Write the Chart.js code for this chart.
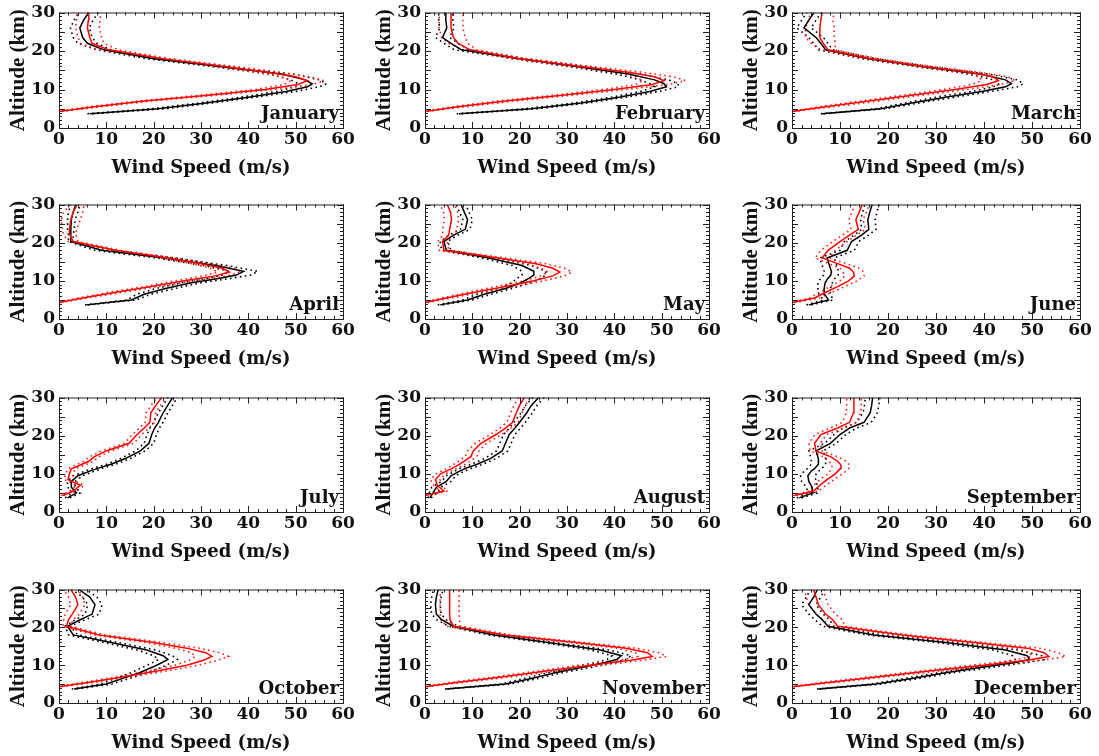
<!DOCTYPE html>
<html>
<head>
<meta charset="utf-8">
<script src="https://cdn.jsdelivr.net/npm/chart.js@4.4.0/dist/chart.umd.min.js"></script>
<style>
  body { margin: 0; background: #fff; width: 1099px; height: 756px; position: relative; overflow: hidden; }
  canvas { position: absolute; }
</style>
</head>
<body>
<script>
// --- Data: wind speed (m/s) profiles by altitude (km) ---
const monthNames = ["January", "February", "March", "April", "May", "June",
                    "July", "August", "September", "October", "November", "December"];

const altBlack = [3.7, 5, 6.5, 8, 9.5, 10.7, 11.5, 12.5, 14, 16, 18, 20.3, 22, 23.5, 26, 28, 30];
const altRed   = [4.3, 5.5, 7, 8.5, 10, 11.3, 12.3, 13.3, 14.5, 16, 18, 20.3, 22, 23.5, 26, 28, 30];

const janBlack   = [6.5, 21, 31, 40, 48, 52.5, 53.5, 52, 47, 34, 20, 9.5, 6, 5, 4.4, 5.2, 6.3];
const janBlackSd = [0.5, 1.5, 1.5, 1.5, 2, 2.5, 3, 3, 2.5, 2, 1.5, 1.5, 2, 2, 2, 2, 2];
const janRed     = [0, 7.5, 18, 31.5, 43.5, 50.5, 52.5, 50, 44, 35, 22, 10.5, 7, 6.5, 6, 6.2, 6.3];
const janRedSd   = [0.5, 1.5, 1.5, 2, 2, 3, 3.5, 3, 2.5, 2, 1.5, 2, 2.5, 2.5, 2.5, 2.5, 2.5];

const febBlack   = [7.2, 22.5, 33, 41, 47.5, 51, 50.5, 48.5, 43, 32, 20, 7.7, 5.5, 3.7, 4.6, 4.4, 4.4];
const febBlackSd = [0.5, 1.5, 1.5, 1.5, 2, 2.5, 3, 3, 2.5, 2, 1.5, 1.5, 1.5, 1.5, 1.5, 1.5, 1.5];
const febRed     = [0, 7, 17, 29, 40, 48, 50.5, 48.5, 43, 33, 20, 9.5, 7, 6, 5.5, 5.5, 5.5];
const febRedSd   = [0.5, 1.5, 2, 2, 2.5, 3.5, 4.5, 4, 3, 2, 1.5, 1.5, 2, 2.5, 2.5, 2.5, 2.5];

const marBlack   = [6.3, 18.5, 25, 32, 39.5, 44.5, 45.7, 44.5, 39, 27, 16, 7, 6, 5, 2.5, 3.5, 4.6];
const marBlackSd = [0.3, 1, 1.5, 2, 2, 2.5, 2.5, 2.5, 2, 1.5, 1.5, 1.5, 1.5, 1.5, 1.5, 1.5, 1.5];
const marRed     = [0, 7, 16, 25, 34, 40.5, 43, 42, 37, 27.5, 16.5, 7.5, 6.5, 5.8, 5.8, 6, 6.3];
const marRedSd   = [0.3, 1.5, 2, 2, 2.5, 3, 3.5, 3, 2, 1.5, 1.5, 1.5, 2.5, 3, 3, 2.5, 2.5];

const aprBlack   = [5.8, 15.3, 18, 22.5, 28, 34, 37.5, 39, 33, 22.5, 9, 2.5, 2.5, 2.5, 2.6, 3, 3.5];
const aprBlackSd = [0.3, 1, 1.5, 2, 2, 2.5, 3, 3, 2.5, 2, 1.5, 0.5, 0.5, 0.7, 0.8, 1, 1];
const aprRed     = [0, 5, 12, 19.5, 26.5, 33, 36, 34.5, 30, 23, 12, 3, 2.3, 2.2, 2.5, 3, 3.8];
const aprRedSd   = [0.3, 1, 1.5, 1.5, 2, 2.5, 2.5, 2.5, 2, 1.5, 1, 1, 1.3, 1.5, 2, 2, 1.5];

const mayBlack   = [3.2, 9, 12.5, 17, 20.3, 22, 23, 23, 20.5, 13.5, 4.5, 4, 6, 8.5, 9, 8.3, 7.6];
const mayBlackSd = [0.5, 1, 1.5, 1.5, 2, 2.5, 2.5, 2.5, 2, 1.5, 1, 0.8, 1, 1, 1, 1, 1];
const mayRed     = [0, 4.5, 10.5, 17, 23, 27, 28.5, 27, 23.5, 15.5, 4, 3.7, 5, 5.2, 5.6, 5.4, 4.7];
const mayRedSd   = [0.5, 1, 1.5, 2, 2, 2.5, 2.5, 2.5, 2, 1.5, 1, 1, 1.2, 1.5, 1.5, 1.5, 1.5];

const junBlack   = [3.5, 7.6, 6.8, 6.7, 6.9, 7.5, 8.1, 8.2, 7.8, 7.3, 11.5, 12.4, 14.5, 16, 15.8, 16.2, 16.7];
const junBlackSd = [0.5, 1, 1.2, 1.3, 1.5, 1.5, 1.5, 1.5, 1.5, 1.5, 1.5, 1.5, 1.5, 1.5, 1.5, 1.5, 1.5];
const junRed     = [0, 4.7, 7, 9.5, 11.8, 13, 12.8, 12, 9.5, 6.3, 7.5, 10, 12, 13.8, 13.3, 14, 14.6];
const junRedSd   = [0.5, 1, 1.3, 1.5, 1.8, 2, 2.2, 2, 1.8, 1.5, 1.5, 1.5, 1.5, 1.5, 1.5, 1.5, 1.5];

const julBlack   = [1.8, 3.7, 2.6, 2.6, 4, 6.5, 8.3, 11, 14, 17.2, 19, 19.6, 20.2, 21, 22, 23, 24];
const julBlackSd = [0.5, 0.8, 0.8, 0.8, 1, 1, 1, 1, 1, 1, 1, 1, 1, 1, 1, 1, 1];
const julRed     = [0.7, 3, 4.5, 1.9, 2.2, 2.6, 4.5, 6.3, 7.5, 10, 14.8, 16.5, 18, 19.2, 19.4, 20.5, 21.7];
const julRedSd   = [0.3, 0.8, 0.8, 0.8, 0.8, 0.8, 1, 1, 1, 1, 1, 1, 1, 1, 1, 1, 1];

const augBlack   = [1, 1.7, 2.4, 4.5, 5.5, 7.3, 8.7, 11, 13.8, 16.3, 17, 17.8, 19, 20, 21.5, 22.5, 24];
const augBlackSd = [0.3, 0.8, 1, 1, 1, 1, 1.2, 1.2, 1.2, 1.2, 1.2, 1.2, 1.2, 1.2, 1.2, 1.2, 1.2];
const augRed     = [0, 4, 2.6, 2.2, 3.3, 5.5, 7, 8.3, 9.7, 10.2, 11.8, 15, 17, 18.5, 19.3, 20, 21];
const augRedSd   = [0.3, 0.8, 0.8, 1, 1, 1, 1.2, 1.2, 1.2, 1.2, 1.2, 1.2, 1.2, 1.2, 1.2, 1.2, 1.2];

const sepBlack   = [1.5, 4.3, 4.2, 3.5, 3.3, 4, 4.8, 5.5, 5.5, 5, 8, 10, 12, 15, 16.3, 16.6, 16.8];
const sepBlackSd = [0.5, 1, 1.2, 1.5, 1.5, 1.5, 1.5, 1.5, 1.5, 1.5, 1.2, 1.2, 1.5, 1.5, 1.5, 1.5, 1.5];
const sepRed     = [0.5, 4.5, 5.8, 7.3, 9, 10, 10.2, 9.5, 8, 5, 4.7, 6, 9.5, 12, 12.8, 12.9, 12.9];
const sepRedSd   = [0.3, 1, 1.3, 1.5, 1.5, 1.8, 1.8, 1.8, 1.5, 1.2, 1.2, 1.2, 1.5, 1.5, 1.5, 1.5, 1.5];

const octBlack   = [3.2, 10, 13.5, 17, 19.8, 21.8, 23, 22, 18.5, 11, 3, 1.8, 4.5, 7, 7.6, 6.5, 4.2];
const octBlackSd = [0.5, 1.2, 1.5, 1.8, 2, 2, 2, 2, 2, 1.5, 1, 0.5, 1, 1.5, 1.5, 1.5, 1.5];
const octRed     = [0, 6.5, 14, 21, 27, 30.5, 32.3, 31, 27, 20, 8.5, 1.6, 2, 2.8, 4, 3.5, 2.5];
const octRedSd   = [0.5, 1.2, 1.5, 2, 2.5, 3, 3.5, 3, 2.5, 1.8, 1.2, 0.8, 1, 1.5, 1.5, 1.5, 1.5];

const novBlack   = [4.5, 17, 22.5, 27.5, 33.5, 38, 40.5, 41.5, 37, 26, 14.5, 6, 3.5, 2.4, 2.2, 2.4, 2.8];
const novBlackSd = [0.3, 1, 1.5, 1.5, 2, 2, 2, 2, 2, 1.5, 1.2, 1, 1, 1, 1, 1, 1];
const novRed     = [0, 7, 17, 26, 35, 43.5, 48, 47, 42.5, 32, 17, 6, 5.3, 5.2, 5.2, 5.2, 5.2];
const novRedSd   = [0.3, 1.5, 1.8, 2, 2.5, 2.5, 3, 2.5, 2, 1.5, 1.2, 1.5, 2, 2, 2, 2, 2];

const decBlack   = [5.5, 17.5, 25, 32, 40, 46.5, 49.5, 49, 44.5, 32, 17, 7.5, 6.3, 5, 3.5, 4.5, 5.3];
const decBlackSd = [0.3, 1, 1.5, 1.5, 2, 2.5, 3, 3, 2.5, 2, 1.5, 1.2, 1.5, 1.5, 1.5, 1.5, 1.5];
const decRed     = [0, 8, 18.5, 29, 40, 49, 53.5, 52.5, 49, 38, 23, 9.5, 8.5, 7, 5.5, 5, 4.5];
const decRedSd   = [0.3, 1.5, 1.8, 2, 2.5, 3, 3.5, 3, 2.5, 2, 1.5, 1.5, 2, 2, 2, 2, 2];

const xTicks = [0, 10, 20, 30, 40, 50, 60];
const yTicks = [0, 5, 10, 15, 20, 25, 30];

const monthSeries = [
  [janBlack, janBlackSd, janRed, janRedSd],
  [febBlack, febBlackSd, febRed, febRedSd],
  [marBlack, marBlackSd, marRed, marRedSd],
  [aprBlack, aprBlackSd, aprRed, aprRedSd],
  [mayBlack, mayBlackSd, mayRed, mayRedSd],
  [junBlack, junBlackSd, junRed, junRedSd],
  [julBlack, julBlackSd, julRed, julRedSd],
  [augBlack, augBlackSd, augRed, augRedSd],
  [sepBlack, sepBlackSd, sepRed, sepRedSd],
  [octBlack, octBlackSd, octRed, octRedSd],
  [novBlack, novBlackSd, novRed, novRedSd],
  [decBlack, decBlackSd, decRed, decRedSd]
];

// --- Layout of the 4x3 panel grid (plot-area pixel edges) ---
const colLeft = [59, 425, 792];
const colRight = [343, 709, 1080];
const rowTop = [10, 202, 395, 587];
const rowBottom = [128, 319, 512, 703];
const AXIS_W = 59, AXIS_H = 55, PAD_TOP = 10, PAD_RIGHT = 20;

const serif = "'DejaVu Serif', serif";

function toPoints(alts, vals, sd, sign) {
  return alts.map((a, i) => ({ x: vals[i] + sign * (sd ? sd[i] : 0), y: a }));
}

function line(points, color, dotted) {
  return {
    data: points,
    showLine: true,
    borderColor: color,
    borderWidth: dotted ? 1.6 : 1.5,
    borderDash: dotted ? [1.6, 3.4] : [],
    pointRadius: 0,
    fill: false,
    tension: 0
  };
}

// Box with inward ticks on all four sides, plus the month label
function framePlugin(label) {
  return {
    id: "frame",
    afterDraw(chart) {
      const { ctx, chartArea: a, scales: { x, y } } = chart;
      ctx.save();
      ctx.strokeStyle = "#222";
      ctx.lineWidth = 1;
      ctx.strokeRect(a.left + 0.5, a.top + 0.5, a.right - a.left, a.bottom - a.top);
      ctx.beginPath();
      for (let v = 0; v <= 60; v += 2) {
        const px = Math.round(x.getPixelForValue(v)) + 0.5;
        const len = v % 10 === 0 ? 6 : 3;
        ctx.moveTo(px, a.bottom); ctx.lineTo(px, a.bottom - len);
        ctx.moveTo(px, a.top); ctx.lineTo(px, a.top + len);
      }
      for (let v = 0; v <= 30; v += 1) {
        const py = Math.round(y.getPixelForValue(v)) + 0.5;
        const len = v % 5 === 0 ? 6 : 3;
        ctx.moveTo(a.left, py); ctx.lineTo(a.left + len, py);
        ctx.moveTo(a.right, py); ctx.lineTo(a.right - len, py);
      }
      ctx.stroke();
      ctx.fillStyle = "#111";
      ctx.font = "bold 18px " + serif;
      ctx.textAlign = "right";
      ctx.textBaseline = "alphabetic";
      ctx.fillText(label, a.right - 4, a.bottom - 9);
      ctx.restore();
    }
  };
}

monthNames.forEach((name, m) => {
  const row = Math.floor(m / 3), col = m % 3;
  const [black, blackSd, red, redSd] = monthSeries[m];
  const plotW = colRight[col] - colLeft[col];
  const plotH = rowBottom[row] - rowTop[row];

  const canvas = document.createElement("canvas");
  canvas.width = plotW + AXIS_W + PAD_RIGHT;
  canvas.height = plotH + PAD_TOP + AXIS_H;
  canvas.style.left = (colLeft[col] - AXIS_W) + "px";
  canvas.style.top = (rowTop[row] - PAD_TOP) + "px";
  document.body.appendChild(canvas);

  new Chart(canvas.getContext("2d"), {
    type: "scatter",
    data: {
      datasets: [
        line(toPoints(altRed, red, null, 0), "#ff0000", false),
        line(toPoints(altBlack, black, null, 0), "#000000", false),
        line(toPoints(altRed, red, redSd, -1), "#ff2020", true),
        line(toPoints(altRed, red, redSd, 1), "#ff2020", true),
        line(toPoints(altBlack, black, blackSd, -1), "#000000", true),
        line(toPoints(altBlack, black, blackSd, 1), "#000000", true)
      ]
    },
    options: {
      responsive: false,
      animation: false,
      events: [],
      layout: { padding: { top: PAD_TOP, right: PAD_RIGHT, left: 0, bottom: 0 } },
      plugins: { legend: { display: false }, tooltip: { enabled: false } },
      scales: {
        x: {
          type: "linear", min: 0, max: 60,
          afterFit: s => { s.height = AXIS_H; },
          afterBuildTicks: s => { s.ticks = xTicks.map(v => ({ value: v })); },
          grid: { display: false, drawTicks: false },
          border: { display: false },
          ticks: { padding: 3, color: "#111", font: { family: serif, weight: "bold", size: 17, lineHeight: 1 }, maxRotation: 0 },
          title: { display: true, text: "Wind Speed (m/s)", color: "#111",
                   padding: { top: 0, bottom: 6 },
                   font: { family: serif, weight: "bold", size: 18, lineHeight: 1 } }
        },
        y: {
          type: "linear", min: 0, max: 30,
          afterFit: s => { s.width = AXIS_W; },
          afterBuildTicks: s => { s.ticks = yTicks.map(v => ({ value: v })); },
          grid: { display: false, drawTicks: false },
          border: { display: false },
          ticks: { padding: 4, color: "#111", font: { family: serif, weight: "bold", size: 17, lineHeight: 1 } },
          title: { display: true, text: "Altitude (km)", color: "#111",
                   padding: { top: 8.5, bottom: 0 },
                   font: { family: "'Liberation Serif', serif", weight: "bold", size: 21, lineHeight: 1 } }
        }
      }
    },
    plugins: [framePlugin(name)]
  });
});
</script>
</body>
</html>
